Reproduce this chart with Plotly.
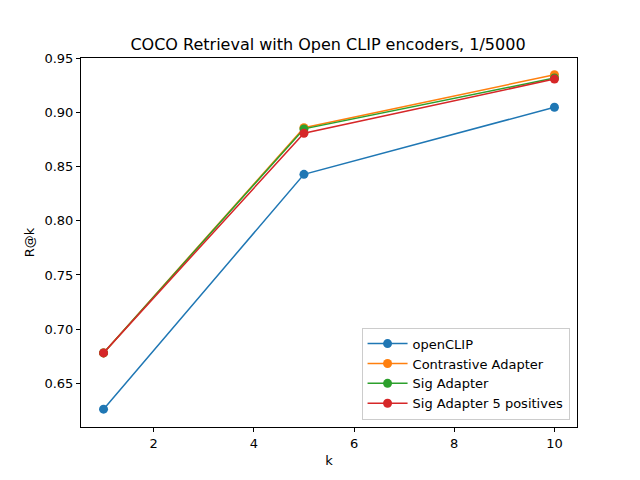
import plotly.graph_objects as go

k = [1, 5, 10]
open_clip = [0.626, 0.843, 0.905]
contrastive_adapter = [0.678, 0.886, 0.935]
sig_adapter = [0.678, 0.885, 0.932]
sig_adapter_5pos = [0.678, 0.881, 0.931]

series = [
    ("openCLIP", open_clip, "#1f77b4"),
    ("Contrastive Adapter", contrastive_adapter, "#ff7f0e"),
    ("Sig Adapter", sig_adapter, "#2ca02c"),
    ("Sig Adapter 5 positives", sig_adapter_5pos, "#d62728"),
]

fig = go.Figure()
for name, vals, color in series:
    fig.add_trace(
        go.Scatter(
            x=k,
            y=vals,
            mode="lines+markers",
            name=name,
            line=dict(color=color, width=1.5),
            marker=dict(color=color, size=9),
        )
    )

axis_style = dict(
    showgrid=False,
    zeroline=False,
    showline=True,
    linecolor="black",
    linewidth=1,
    mirror=True,
    ticks="outside",
    ticklen=4,
    tickcolor="black",
    tickfont=dict(size=13, color="black"),
    automargin=False,
)

fig.update_xaxes(
    range=[0.55, 10.45],
    tickvals=[2, 4, 6, 8, 10],
    title=dict(text="k", font=dict(size=13, color="black"), standoff=6),
    **axis_style,
)
fig.update_yaxes(
    range=[0.6095, 0.9505],
    tickvals=[0.65, 0.70, 0.75, 0.80, 0.85, 0.90, 0.95],
    tickformat=".2f",
    title=dict(text="R@k", font=dict(size=13, color="black"), standoff=6),
    **axis_style,
)

fig.update_layout(
    width=640,
    height=480,
    margin=dict(l=73, r=71, t=50, b=61),
    paper_bgcolor="white",
    plot_bgcolor="white",
    font=dict(family="DejaVu Sans", color="black"),
    title=dict(
        text="COCO Retrieval with Open CLIP encoders, 1/5000",
        x=0.5,
        xanchor="center",
        y=0.925,
        yanchor="middle",
        font=dict(size=16, color="black"),
    ),
    legend=dict(
        x=0.985,
        y=0.02,
        xanchor="right",
        yanchor="bottom",
        bgcolor="rgba(255,255,255,0.8)",
        bordercolor="#cccccc",
        borderwidth=1,
        font=dict(size=13, color="black"),
        tracegroupgap=0,
        itemwidth=40,
    ),
)

fig.write_html("out.html")
